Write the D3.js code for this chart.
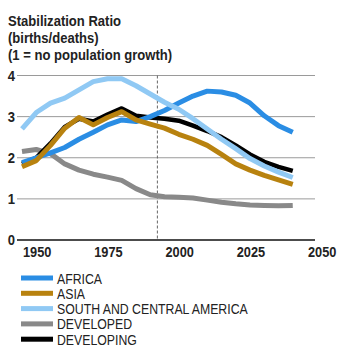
<!DOCTYPE html>
<html>
<head>
<meta charset="utf-8">
<script src="https://cdn.jsdelivr.net/npm/d3@7"></script>
<style>
  body { margin: 0; background: #fff; }
  svg { display: block; }
  text { font-family: "Liberation Sans", Arial, sans-serif; }
</style>
</head>
<body>
<div id="chart"></div>
<script>
var years = d3.range(1950, 2046, 5);
var africa = [1.88, 2.0, 2.12, 2.25, 2.45, 2.62, 2.8, 2.92, 2.88, 3.0, 3.15, 3.33, 3.5, 3.62, 3.6, 3.52, 3.33, 3.02, 2.78, 2.62];
var asia = [1.78, 1.93, 2.3, 2.72, 2.98, 2.8, 2.98, 3.12, 2.92, 2.82, 2.72, 2.57, 2.45, 2.3, 2.08, 1.85, 1.7, 1.57, 1.46, 1.35];
var southAmerica = [2.7, 3.1, 3.33, 3.45, 3.65, 3.85, 3.92, 3.92, 3.75, 3.55, 3.35, 3.18, 2.95, 2.7, 2.45, 2.22, 1.98, 1.8, 1.65, 1.52];
var developed = [2.15, 2.2, 2.1, 1.85, 1.7, 1.6, 1.53, 1.45, 1.25, 1.1, 1.05, 1.04, 1.02, 0.97, 0.92, 0.88, 0.85, 0.84, 0.83, 0.84];
var developing = [1.85, 2.0, 2.35, 2.75, 2.95, 2.88, 3.05, 3.2, 3.02, 2.98, 2.95, 2.9, 2.78, 2.65, 2.5, 2.3, 2.08, 1.9, 1.78, 1.68];
var xTicks = [1950, 1975, 2000, 2025, 2050];
var yTicks = [0, 1, 2, 3, 4];
var todayYear = 1997.5;
var titleLines = ['Stabilization Ratio', '(births/deaths)', '(1 = no population growth)'];

var series = [
  {name: 'AFRICA', values: africa, color: '#2a8de4', w: 5},
  {name: 'ASIA', values: asia, color: '#b8820f', w: 5},
  {name: 'SOUTH AND CENTRAL AMERICA', values: southAmerica, color: '#90c9f4', w: 5},
  {name: 'DEVELOPED', values: developed, color: '#898989', w: 5},
  {name: 'DEVELOPING', values: developing, color: '#000000', w: 4.5}
];
// stacking order seen in the picture
var drawOrder = ['DEVELOPED', 'DEVELOPING', 'AFRICA', 'ASIA', 'SOUTH AND CENTRAL AMERICA'];

var width = 341, height = 358;
var svg = d3.select('#chart').append('svg').attr('width', width).attr('height', height);

var x = d3.scaleLinear().domain([1950, 2050]).range([22, 307]);
var y = d3.scaleLinear().domain([0, 4]).range([240, 75.5]);

// no narrow font installed, so squeeze text horizontally
function squeeze(px, py, sx) { return 'translate(' + px + ',' + py + ') scale(' + sx + ',1)'; }

svg.selectAll('.title').data(titleLines).enter().append('text')
  .attr('transform', (d, i) => squeeze(8, 26 + i * 16.8, 0.9))
  .attr('font-size', 14.5).attr('font-weight', 'bold').attr('fill', '#222')
  .text(d => d);

// grid
svg.append('g').selectAll('line').data(yTicks.filter(d => d > 0)).enter().append('line')
  .attr('x1', 17).attr('x2', 315).attr('y1', d => y(d)).attr('y2', d => y(d))
  .attr('stroke', '#9a9a9a').attr('stroke-width', 1);

svg.append('line').attr('x1', x(todayYear)).attr('x2', x(todayYear))
  .attr('y1', y(4)).attr('y2', y(0))
  .attr('stroke', '#666').attr('stroke-width', 1).attr('stroke-dasharray', '3,2');

svg.append('line').attr('x1', 17).attr('x2', 315).attr('y1', y(0)).attr('y2', y(0))
  .attr('stroke', '#111').attr('stroke-width', 1.5);

svg.append('g').selectAll('text').data(yTicks).enter().append('text')
  .attr('transform', d => squeeze(15, y(d) + 5, 0.9)).attr('text-anchor', 'end')
  .attr('font-size', 14.5).attr('font-weight', 'bold').attr('fill', '#222')
  .text(d => d);

svg.append('g').selectAll('text').data(xTicks).enter().append('text')
  .attr('transform', d => squeeze(x(d) + 1, 257, 0.88))
  .attr('font-size', 14.5).attr('font-weight', 'bold').attr('fill', '#222')
  .text(d => d);

var line = d3.line().x((d, i) => x(years[i])).y(d => y(d));

svg.append('g').selectAll('path')
  .data(drawOrder.map(n => series.find(s => s.name === n))).enter().append('path')
  .attr('d', d => line(d.values))
  .attr('fill', 'none').attr('stroke', d => d.color).attr('stroke-width', d => d.w)
  .attr('stroke-linejoin', 'round');

var legend = svg.append('g').selectAll('g').data(series).enter().append('g')
  .attr('transform', (d, i) => 'translate(21,' + (278 + i * 15.3) + ')');
legend.append('rect').attr('x', 0).attr('y', -2.5).attr('width', 32).attr('height', 5)
  .attr('fill', d => d.color);
legend.append('text').attr('transform', squeeze(36, 5.5, 0.82))
  .attr('font-size', 15).attr('fill', '#222')
  .text(d => d.name);
</script>
</body>
</html>
